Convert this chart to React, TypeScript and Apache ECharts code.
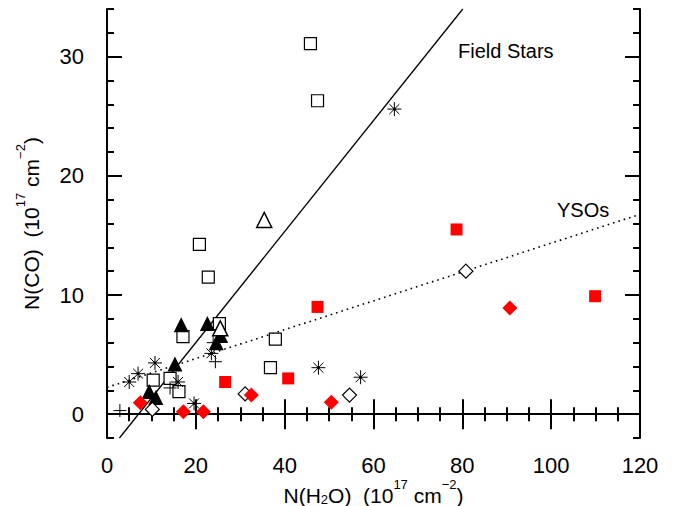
import React, { useEffect, useRef } from "react";
import * as echarts from "echarts";

// N(H2O), N(CO) pairs in units of 1e17 cm^-2
const openSquares = [
  [45.8, 31.1], [47.4, 26.3], [20.8, 14.25], [22.8, 11.5], [25.3, 7.6], [17.1, 6.5],
  [37.9, 6.3], [36.8, 3.9], [10.4, 2.85], [14.2, 3.0], [16.2, 1.9],
];
const filledTriangles = [
  [16.7, 7.5], [22.6, 7.6], [24.6, 6.0], [25.6, 6.6], [15.3, 4.2], [9.5, 1.9], [11.0, 1.4],
];
const openTriangles = [[35.4, 16.3], [25.5, 7.2]];
const asterisks = [
  [64.7, 25.6], [5.0, 2.7], [7.0, 3.4], [10.8, 4.3], [16.0, 2.7], [19.6, 0.9],
  [23.5, 5.1], [47.6, 3.9], [57.1, 3.1],
];
const pluses = [[2.9, 0.3], [14.2, 2.2], [24.4, 4.4], [23.9, 6.0]];
const openDiamonds = [[10.2, 0.4], [31.1, 1.7], [54.6, 1.6], [80.8, 12.0]];
const redDiamonds = [[7.5, 0.95], [17.2, 0.2], [21.7, 0.2], [32.5, 1.6], [50.5, 1.0], [90.7, 8.9]];
const redSquares = [[26.6, 2.7], [40.8, 3.0], [47.4, 9.0], [78.7, 15.5], [109.9, 9.9]];

// Fitted relations
const fieldStarsLine = [[2.8, -2], [80.1, 34]];
const ysoLine = [[0, 2.25], [120, 16.77]];

const xTicks = [0, 20, 40, 60, 80, 100, 120];
const yMajorTicks = [0, 10, 20, 30];

const FONT = 'Arial, "Liberation Sans", sans-serif';
const ASTERISK =
  "path://M0 8 L16 8 M8 0 L8 16 M2.3 2.3 L13.7 13.7 M13.7 2.3 L2.3 13.7 M7 7 L9 7 L9 9 L7 9 Z";
const PLUS = "path://M0 8 L16 8 M8 0 L8 16";

export default function App() {
  const ref = useRef<HTMLDivElement>(null);

  useEffect(() => {
    if (!ref.current) return;
    const chart = echarts.init(ref.current, null, { renderer: "svg" });

    const axisLine = { show: true, lineStyle: { color: "#000", width: 2 } };
    const yBase = { type: "value", min: -2, max: 34, splitLine: { show: false } };

    const yAxes = ["left", "right"].flatMap((pos) => [
      {
        ...yBase,
        position: pos,
        interval: 2,
        axisLine,
        axisTick: { show: true, inside: true, length: 7, lineStyle: { color: "#000", width: 2 } },
        axisLabel:
          pos === "left"
            ? {
                show: true,
                margin: 23,
                fontSize: 22,
                color: "#000",
                fontFamily: FONT,
                formatter: (v: number) => (yMajorTicks.includes(v) ? String(v) : ""),
              }
            : { show: false },
        ...(pos === "left"
          ? {
              name: "{n|N(CO)  (10}{sup|17}{n| cm}{sup|−2}{n|)}",
              nameLocation: "middle",
              nameGap: 65,
              nameRotate: 90,
              nameMoveOverlap: false,
              nameTextStyle: {
                rich: {
                  n: { fontSize: 21, fontFamily: FONT, color: "#000", lineHeight: 28, verticalAlign: "bottom" },
                  sup: { fontSize: 13, fontFamily: FONT, color: "#000", lineHeight: 28, verticalAlign: "top" },
                },
              },
            }
          : {}),
      },
      {
        ...yBase,
        position: pos,
        axisLine: { show: false },
        axisLabel: { show: false },
        axisTick: {
          show: true,
          inside: true,
          length: 15,
          customValues: yMajorTicks,
          lineStyle: { color: "#000", width: 2 },
        },
      },
    ]);

    const xBase = {
      type: "value",
      min: 0,
      max: 120,
      interval: 20,
      splitLine: { show: false },
      axisLine,
      axisTick: { show: true, inside: true, length: 15, lineStyle: { color: "#000", width: 2 } },
      minorTick: { show: true, splitNumber: 4, length: 7, lineStyle: { color: "#000", width: 2 } },
    };

    const scatter = (data: number[][], symbol: string, size: number, style: any, z: number) => ({
      type: "scatter",
      data,
      symbol,
      symbolSize: size,
      itemStyle: { opacity: 1, ...style },
      z,
      xAxisIndex: 0,
      yAxisIndex: 0,
    });

    chart.setOption({
      animation: false,
      backgroundColor: "#fff",
      grid: { left: 107, right: 38, top: 9, bottom: 68, outerBoundsMode: "none", containLabel: false },
      xAxis: [
        {
          ...xBase,
          position: "bottom",
          axisLabel: {
            show: true,
            margin: 16,
            fontSize: 22,
            color: "#000",
            fontFamily: FONT,
            customValues: xTicks,
          },
          name: "{n|N(H}{sub|2}{n|O)  (10}{sup|17}{n| cm}{sup|−2}{n|)}",
          nameLocation: "middle",
          nameGap: 40,
          nameMoveOverlap: false,
          nameTextStyle: {
            rich: {
              n: { fontSize: 21, fontFamily: FONT, color: "#000", lineHeight: 28, verticalAlign: "bottom" },
              sup: { fontSize: 13, fontFamily: FONT, color: "#000", lineHeight: 28, verticalAlign: "top" },
              sub: { fontSize: 13, fontFamily: FONT, color: "#000", lineHeight: 20, verticalAlign: "bottom" },
            },
          },
        },
        { ...xBase, position: "top", axisLabel: { show: false } },
      ],
      yAxis: yAxes,
      series: [
        {
          type: "line",
          data: fieldStarsLine,
          symbol: "none",
          lineStyle: { color: "#000", width: 1.3 },
          z: 1,
        },
        {
          type: "line",
          data: ysoLine,
          symbol: "none",
          lineStyle: { color: "#000", width: 1.6, type: [1.6, 4] },
          z: 1,
        },
        scatter(openSquares, "rect", 12, { color: "#fff", borderColor: "#000", borderWidth: 1.2 }, 2),
        scatter(filledTriangles, "triangle", 15, { color: "#000" }, 3),
        scatter(openTriangles, "triangle", 15, { color: "#fff", borderColor: "#000", borderWidth: 1.5 }, 4),
        scatter(asterisks, ASTERISK, 14, { color: "#000", borderColor: "#000", borderWidth: 1 }, 4),
        scatter(pluses, PLUS, 13, { color: "#000", borderColor: "#000", borderWidth: 1 }, 4),
        scatter(openDiamonds, "diamond", 14, { color: "#fff", borderColor: "#000", borderWidth: 1.2 }, 4),
        scatter(redDiamonds, "diamond", 15, { color: "#ff0000" }, 5),
        scatter(redSquares, "rect", 12, { color: "#ff0000" }, 5),
      ],
      graphic: [
        {
          type: "text",
          left: 458,
          top: 41,
          style: { text: "Field Stars", fontSize: 20, fontFamily: FONT, fill: "#000" },
        },
        {
          type: "text",
          left: 557,
          top: 200,
          style: { text: "YSOs", fontSize: 20, fontFamily: FONT, fill: "#000" },
        },
      ],
    });

    return () => chart.dispose();
  }, []);

  return (
    <div
      ref={ref}
      style={{ position: "fixed", left: 0, top: 0, width: 678, height: 506, background: "#fff" }}
    />
  );
}
